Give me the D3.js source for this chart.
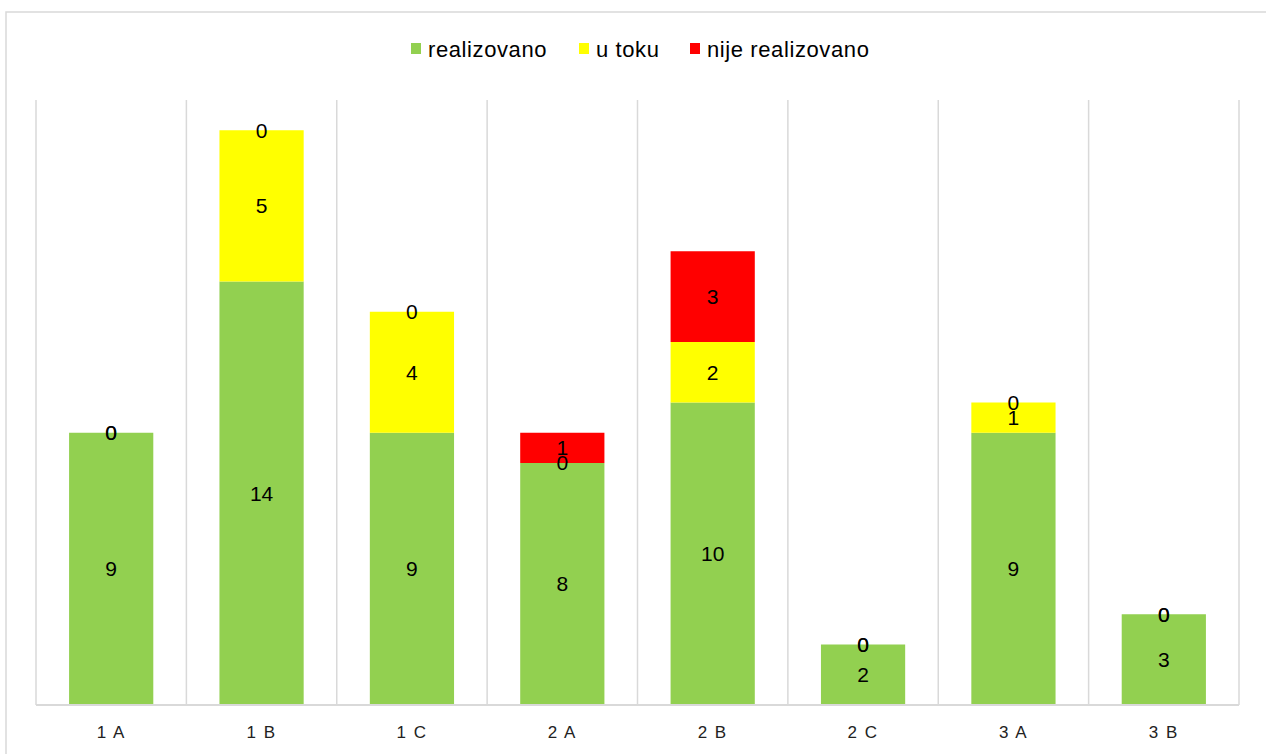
<!DOCTYPE html>
<html>
<head>
<meta charset="utf-8">
<style>
  body { margin: 0; background: #fff; }
  svg text { font-family: "Liberation Sans", Arial, sans-serif; }
  .grid line { stroke: #d9d9d9; stroke-width: 1.5; }
</style>
</head>
<body>
<svg width="1266" height="754"></svg>
<script src="https://d3js.org/d3.v7.min.js"></script>
<script>
// chart data
var categories = ["1A", "1B", "1C", "2A", "2B", "2C", "3A", "3B"];
var tickLabels = ["1 A", "1 B", "1 C", "2 A", "2 B", "2 C", "3 A", "3 B"];
var seriesNames = ["realizovano", "u toku", "nije realizovano"];
var realizovano = [9, 14, 9, 8, 10, 2, 9, 3];
var uToku = [0, 5, 4, 0, 2, 0, 1, 0];
var nijeRealizovano = [0, 0, 0, 1, 3, 0, 0, 0];
var colors = ["#92d050", "#ffff00", "#ff0000"];

var svg = d3.select("svg");

// outer chart border
svg.append("rect")
    .attr("x", 6).attr("y", 12)
    .attr("width", 1300).attr("height", 800)
    .attr("fill", "none")
    .attr("stroke", "#d9d9d9")
    .attr("stroke-width", 1.5);

var plotLeft = 36, plotRight = 1239, plotTop = 100, plotBottom = 705;

var x = d3.scaleBand()
    .domain(categories)
    .range([plotLeft, plotRight])
    .paddingInner(0.44)
    .paddingOuter(0.22);

var y = d3.scaleLinear()
    .domain([0, 20])
    .range([plotBottom, plotTop]);

// vertical gridlines at category boundaries
var step = (plotRight - plotLeft) / categories.length;
var bounds = d3.range(categories.length + 1).map(function (i) { return plotLeft + i * step; });
svg.append("g").attr("class", "grid")
    .selectAll("line")
    .data(bounds)
    .enter().append("line")
    .attr("x1", function (d) { return d; })
    .attr("x2", function (d) { return d; })
    .attr("y1", plotTop)
    .attr("y2", plotBottom);

// stacked data
var rows = categories.map(function (c, i) {
    return { cat: c, a: realizovano[i], b: uToku[i], c: nijeRealizovano[i] };
});
var stack = d3.stack().keys(["a", "b", "c"]);
var layers = stack(rows);

var g = svg.append("g");
layers.forEach(function (layer, li) {
    g.append("g")
        .selectAll("rect")
        .data(layer)
        .enter().append("rect")
        .attr("x", function (d) { return x(d.data.cat); })
        .attr("width", x.bandwidth())
        .attr("y", function (d) { return y(d[1]); })
        .attr("height", function (d) { return y(d[0]) - y(d[1]); })
        .attr("fill", colors[li]);
});

// x axis line
svg.append("line")
    .attr("x1", plotLeft).attr("x2", plotRight)
    .attr("y1", plotBottom).attr("y2", plotBottom)
    .attr("stroke", "#d9d9d9")
    .attr("stroke-width", 2);

// data labels
layers.forEach(function (layer) {
    g.append("g")
        .selectAll("text")
        .data(layer)
        .enter().append("text")
        .attr("x", function (d) { return x(d.data.cat) + x.bandwidth() / 2; })
        .attr("y", function (d) { return (y(d[0]) + y(d[1])) / 2; })
        .attr("dy", "0.35em")
        .attr("text-anchor", "middle")
        .attr("font-size", 21)
        .attr("fill", "#000")
        .text(function (d) { return d[1] - d[0]; });
});

// category labels
svg.append("g")
    .selectAll("text")
    .data(categories)
    .enter().append("text")
    .attr("x", function (d) { return x(d) + x.bandwidth() / 2; })
    .attr("y", 738)
    .attr("text-anchor", "middle")
    .attr("font-size", 17)
    .attr("letter-spacing", 1.5)
    .attr("fill", "#222")
    .text(function (d, i) { return tickLabels[i]; });

// legend
var legendX = [411, 579, 690];
var legend = svg.append("g");
seriesNames.forEach(function (name, i) {
    legend.append("rect")
        .attr("x", legendX[i]).attr("y", 43)
        .attr("width", 10).attr("height", 11)
        .attr("fill", colors[i]);
    legend.append("text")
        .attr("x", legendX[i] + 17).attr("y", 57)
        .attr("font-size", 22)
        .attr("letter-spacing", 0.6)
        .attr("fill", "#000")
        .text(name);
});
</script>
</body>
</html>
